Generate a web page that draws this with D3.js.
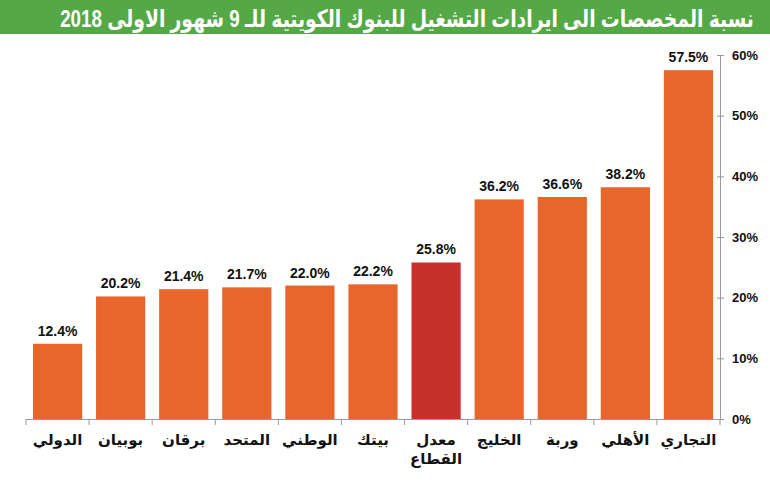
<!DOCTYPE html>
<html><head><meta charset="utf-8">
<script src="https://cdn.jsdelivr.net/npm/d3@7"></script>
<style>
html,body{margin:0;padding:0;background:#fff;}
svg{display:block;}
text{font-family:"Liberation Sans",Arial,"DejaVu Sans",sans-serif;}
</style></head>
<body><svg id="c" width="770" height="489"></svg>
<script>
const title = "نسبة المخصصات الى ايرادات التشغيل للبنوك الكويتية للـ 9 شهور الاولى 2018";
const categories = ["الدولي","بوبيان","برقان","المتحد","الوطني","بيتك","معدل القطاع","الخليج","وربة","الأهلي","التجاري"];
const values = [12.4, 20.2, 21.4, 21.7, 22.0, 22.2, 25.8, 36.2, 36.6, 38.2, 57.5];
const highlight = ["معدل القطاع"];
const yTicks = [0,10,20,30,40,50,60];

const svg = d3.select("#c");
const W = 770, H = 489;
const m = {left:26, right:770-720, top:55, bottom:489-419};

svg.append("rect").attr("x",0).attr("y",0).attr("width",W).attr("height",34).attr("fill","#55a846");
const tg = svg.append("g").attr("transform","translate(407,27)");
const tt = tg.append("text").attr("x",0).attr("y",0).attr("text-anchor","middle")
  .attr("fill","#fff").attr("font-weight","bold").attr("font-size",24)
  .attr("direction","rtl").text(title);
const tw = tt.node().getComputedTextLength();
if (tw > 694) tt.attr("transform",`scale(${694/tw},1)`);

const x = d3.scaleBand().domain(categories).range([m.left, W-m.right]).paddingInner(0.22).paddingOuter(0.11);
const y = d3.scaleLinear().domain([0,60]).range([H-m.bottom, m.top]);

svg.selectAll("rect.bar").data(categories).enter().append("rect").attr("class","bar")
  .attr("x",d=>x(d)).attr("width",x.bandwidth())
  .attr("y",(d,i)=>y(values[i])).attr("height",(d,i)=>y(0)-y(values[i]))
  .attr("fill",d=>highlight.includes(d)?"#c8312b":"#e8652c");

svg.selectAll("text.val").data(categories).enter().append("text").attr("class","val")
  .attr("x",d=>x(d)+x.bandwidth()/2).attr("y",(d,i)=>y(values[i])-8)
  .attr("text-anchor","middle").attr("font-weight","bold").attr("font-size",14).attr("fill","#111")
  .text((d,i)=>values[i].toFixed(1)+"%");

// x axis
const xa = svg.append("g").attr("transform",`translate(0,${y(0)})`);
xa.append("line").attr("x1",m.left).attr("x2",W-m.right).attr("y1",0.5).attr("y2",0.5).attr("stroke","#9a9a9a");
const bounds = d3.range(categories.length+1).map(i=>m.left + i*(W-m.left-m.right)/categories.length);
xa.selectAll("line.t").data(bounds).enter().append("line")
  .attr("x1",d=>d).attr("x2",d=>d).attr("y1",0).attr("y2",6).attr("stroke","#9a9a9a");
xa.selectAll("text.cat").data(categories).enter().append("text").attr("class","cat")
  .attr("text-anchor","middle").attr("font-weight","bold").attr("font-size",15).attr("fill","#111")
  .each(function(d){
    const parts = d.split(" ");
    const t = d3.select(this);
    parts.forEach((p,i)=>t.append("tspan").attr("x",x(d)+x.bandwidth()/2).attr("y",26+i*19).text(p));
  });

// y axis on right
const ya = d3.axisRight(y).tickValues(yTicks).tickFormat(d=>d+"%").tickSize(4).tickPadding(8);
const yg = svg.append("g").attr("transform",`translate(${W-m.right},0)`).call(ya);
yg.select(".domain").attr("stroke","#9a9a9a");
yg.selectAll(".tick line").attr("stroke","#9a9a9a").attr("x1",-3);
yg.selectAll(".tick text").attr("font-weight","bold").attr("font-size",13).attr("fill","#111")
  .attr("font-family","'Liberation Sans',Arial,sans-serif");
</script></body></html>
